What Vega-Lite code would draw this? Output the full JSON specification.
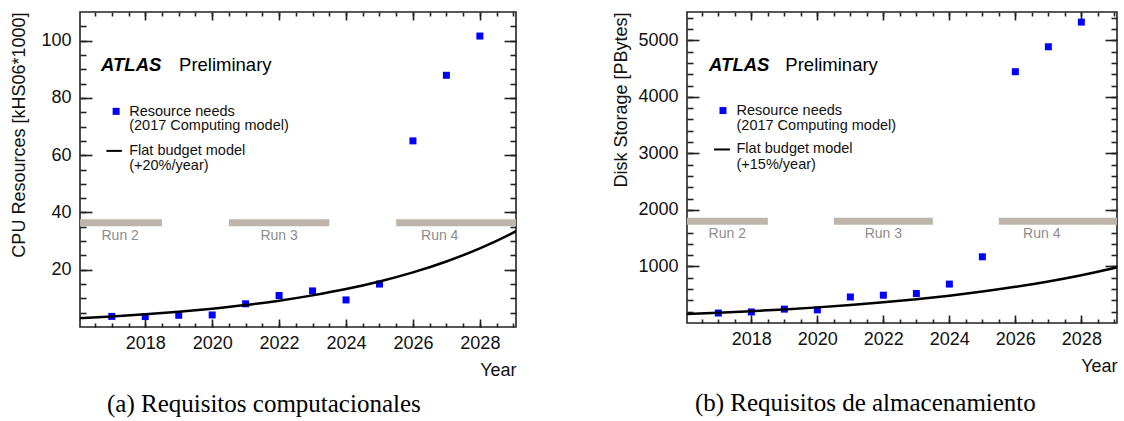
{
  "$schema": "https://vega.github.io/schema/vega-lite/v6.json",
  "padding": {"left": 10, "top": 10, "right": 5, "bottom": 5},
  "spacing": 94,
  "config": {
    "view": {"stroke": "#222222", "strokeWidth": 1.6},
    "axis": {"labelFont": "Liberation Sans", "labelFontSize": 18, "labelColor": "#111111", "tickColor": "#222222", "tickWidth": 1.6, "domain": false, "grid": false, "titleFont": "Liberation Sans", "titleFontSize": 18, "titleFontWeight": "normal", "titleColor": "#111111"},
    "title": {"font": "Liberation Serif", "fontSize": 25, "fontWeight": "normal", "color": "#000000", "orient": "bottom", "frame": "bounds", "anchor": "middle"}
  },
  "hconcat": [
    {
      "width": 436, "height": 315,
      "title": {"text": "(a) Requisitos computacionales", "offset": 13},
      "resolve": {"axis": {"x": "independent", "y": "independent"}},
      "layer": [
        {
          "data": {"values": [
            {"yr": 2017, "v": 3.7}, {"yr": 2018, "v": 3.65}, {"yr": 2019, "v": 4.1}, {"yr": 2020, "v": 4.2},
            {"yr": 2021, "v": 8.1}, {"yr": 2022, "v": 11.0}, {"yr": 2023, "v": 12.6}, {"yr": 2024, "v": 9.45},
            {"yr": 2025, "v": 15.0}, {"yr": 2026, "v": 65.0}, {"yr": 2027, "v": 87.9}, {"yr": 2028, "v": 101.6}
          ]},
          "mark": {"type": "square", "size": 49, "color": "#0000ff", "opacity": 1},
          "encoding": {
            "x": {"field": "yr", "type": "quantitative", "scale": {"domain": [2016.05, 2029.08], "nice": false, "zero": false},
              "axis": {"orient": "bottom", "values": [2018, 2020, 2022, 2024, 2026, 2028], "format": "d", "ticks": false, "labelPadding": 7, "title": "Year", "titleAnchor": "end", "titlePadding": 9}},
            "y": {"field": "v", "type": "quantitative", "scale": {"domain": [0, 110], "nice": false, "zero": false},
              "axis": {"orient": "left", "values": [20, 40, 60, 80, 100], "format": "d", "ticks": false, "labelPadding": 9, "title": "CPU Resources [kHS06*1000]", "titleAnchor": "end", "titlePadding": 12}}
          }
        },
        {
          "data": {"values": [
            {"yr": 2016, "v": 3.08}, {"yr": 2017, "v": 3.70}, {"yr": 2018, "v": 4.44}, {"yr": 2019, "v": 5.32},
            {"yr": 2020, "v": 6.39}, {"yr": 2021, "v": 7.66}, {"yr": 2022, "v": 9.20}, {"yr": 2023, "v": 11.04},
            {"yr": 2024, "v": 13.24}, {"yr": 2025, "v": 15.89}, {"yr": 2026, "v": 19.07}, {"yr": 2027, "v": 22.89},
            {"yr": 2028, "v": 27.46}, {"yr": 2029, "v": 32.96}, {"yr": 2029.1, "v": 33.56}
          ]},
          "mark": {"type": "line", "color": "#000000", "strokeWidth": 2.5, "clip": true, "interpolate": "monotone"},
          "encoding": {
            "x": {"field": "yr", "type": "quantitative", "scale": {"domain": [2016.05, 2029.08], "nice": false, "zero": false},
              "axis": {"orient": "bottom", "values": [2018, 2020, 2022, 2024, 2026, 2028], "labels": false, "tickSize": 8, "offset": -8, "title": null}},
            "y": {"field": "v", "type": "quantitative", "scale": {"domain": [0, 110], "nice": false, "zero": false},
              "axis": {"orient": "left", "values": [20, 40, 60, 80, 100], "labels": false, "tickSize": 12, "offset": -12, "title": null}}
          }
        },
        {
          "data": {"values": [
            {"run": "Run 2", "x1": 2015, "x2": 2018.5, "lv": 36.4},
            {"run": "Run 3", "x1": 2020.5, "x2": 2023.5, "lv": 36.4},
            {"run": "Run 4", "x1": 2025.5, "x2": 2030, "lv": 36.4}
          ]},
          "mark": {"type": "rule", "color": "#bdb5ab", "strokeWidth": 7, "strokeCap": "butt", "clip": true},
          "encoding": {
            "x": {"field": "x1", "type": "quantitative", "scale": {"domain": [2016.05, 2029.08], "nice": false, "zero": false},
              "axis": {"orient": "bottom", "values": [2016.5, 2017, 2017.5, 2018, 2018.5, 2019, 2019.5, 2020, 2020.5, 2021, 2021.5, 2022, 2022.5, 2023, 2023.5, 2024, 2024.5, 2025, 2025.5, 2026, 2026.5, 2027, 2027.5, 2028, 2028.5, 2029], "labels": false, "tickSize": 4, "offset": -4, "title": null}},
            "x2": {"field": "x2"},
            "y": {"field": "lv", "type": "quantitative", "scale": {"domain": [0, 110], "nice": false, "zero": false},
              "axis": {"orient": "left", "values": [5, 10, 15, 20, 25, 30, 35, 40, 45, 50, 55, 60, 65, 70, 75, 80, 85, 90, 95, 100, 105], "labels": false, "tickSize": 6, "offset": -6, "title": null}}
          }
        },
        {
          "data": {"values": [
            {"run": "Run 2", "lx": 2017.25, "lv": 36.4},
            {"run": "Run 3", "lx": 2022, "lv": 36.4},
            {"run": "Run 4", "lx": 2026.8, "lv": 36.4}
          ]},
          "mark": {"type": "text", "font": "Liberation Sans", "fontSize": 14, "color": "#8c8c8c", "dy": 13, "align": "center", "baseline": "middle"},
          "encoding": {
            "x": {"field": "lx", "type": "quantitative", "scale": {"domain": [2016.05, 2029.08], "nice": false, "zero": false},
              "axis": {"orient": "top", "values": [2018, 2020, 2022, 2024, 2026, 2028], "labels": false, "tickSize": 8, "offset": -8, "title": null}},
            "y": {"field": "lv", "type": "quantitative", "scale": {"domain": [0, 110], "nice": false, "zero": false},
              "axis": {"orient": "right", "values": [20, 40, 60, 80, 100], "labels": false, "tickSize": 12, "offset": -12, "title": null}},
            "text": {"field": "run"}
          }
        },
        {
          "data": {"values": [{"t": "ATLAS", "yr": 2016.68, "v": 91.5}]},
          "mark": {"type": "text", "font": "Liberation Sans", "fontSize": 18.5, "fontWeight": "bold", "fontStyle": "italic", "color": "#000000", "align": "left", "baseline": "middle"},
          "encoding": {
            "x": {"field": "yr", "type": "quantitative", "scale": {"domain": [2016.05, 2029.08], "nice": false, "zero": false},
              "axis": {"orient": "top", "values": [2016.5, 2017, 2017.5, 2018, 2018.5, 2019, 2019.5, 2020, 2020.5, 2021, 2021.5, 2022, 2022.5, 2023, 2023.5, 2024, 2024.5, 2025, 2025.5, 2026, 2026.5, 2027, 2027.5, 2028, 2028.5, 2029], "labels": false, "tickSize": 4, "offset": -4, "title": null}},
            "y": {"field": "v", "type": "quantitative", "scale": {"domain": [0, 110], "nice": false, "zero": false},
              "axis": {"orient": "right", "values": [5, 10, 15, 20, 25, 30, 35, 40, 45, 50, 55, 60, 65, 70, 75, 80, 85, 90, 95, 100, 105], "labels": false, "tickSize": 6, "offset": -6, "title": null}},
            "text": {"field": "t"}
          }
        },
        {
          "data": {"values": [{"t": "Preliminary", "yr": 2019.01, "v": 91.5}]},
          "mark": {"type": "text", "font": "Liberation Sans", "fontSize": 18.5, "color": "#000000", "align": "left", "baseline": "middle"},
          "encoding": {
            "x": {"field": "yr", "type": "quantitative", "scale": {"domain": [2016.05, 2029.08], "nice": false, "zero": false}, "axis": null},
            "y": {"field": "v", "type": "quantitative", "scale": {"domain": [0, 110], "nice": false, "zero": false}, "axis": null},
            "text": {"field": "t"}
          }
        },
        {
          "data": {"values": [{"yr": 2017.13, "v": 75.3}]},
          "mark": {"type": "square", "size": 49, "color": "#0000ff", "opacity": 1},
          "encoding": {
            "x": {"field": "yr", "type": "quantitative", "scale": {"domain": [2016.05, 2029.08], "nice": false, "zero": false}, "axis": null},
            "y": {"field": "v", "type": "quantitative", "scale": {"domain": [0, 110], "nice": false, "zero": false}, "axis": null}
          }
        },
        {
          "data": {"values": [{"yr": 2016.84, "yr2": 2017.30, "v": 61.5}]},
          "mark": {"type": "rule", "color": "#000000", "strokeWidth": 2},
          "encoding": {
            "x": {"field": "yr", "type": "quantitative", "scale": {"domain": [2016.05, 2029.08], "nice": false, "zero": false}, "axis": null},
            "x2": {"field": "yr2"},
            "y": {"field": "v", "type": "quantitative", "scale": {"domain": [0, 110], "nice": false, "zero": false}, "axis": null}
          }
        },
        {
          "data": {"values": [
            {"t": "Resource needs", "yr": 2017.52, "v": 75.0},
            {"t": "(2017 Computing model)", "yr": 2017.52, "v": 70.1},
            {"t": "Flat budget model", "yr": 2017.52, "v": 61.5},
            {"t": "(+20%/year)", "yr": 2017.52, "v": 56.3}
          ]},
          "mark": {"type": "text", "font": "Liberation Sans", "fontSize": 14.5, "color": "#111111", "align": "left", "baseline": "middle"},
          "encoding": {
            "x": {"field": "yr", "type": "quantitative", "scale": {"domain": [2016.05, 2029.08], "nice": false, "zero": false}, "axis": null},
            "y": {"field": "v", "type": "quantitative", "scale": {"domain": [0, 110], "nice": false, "zero": false}, "axis": null},
            "text": {"field": "t"}
          }
        }
      ]
    },
    {
      "width": 430, "height": 311,
      "title": {"text": "(b) Requisitos de almacenamiento", "offset": 16},
      "resolve": {"axis": {"x": "independent", "y": "independent"}},
      "layer": [
        {
          "data": {"values": [
            {"yr": 2017, "v": 176}, {"yr": 2018, "v": 195}, {"yr": 2019, "v": 245}, {"yr": 2020, "v": 232},
            {"yr": 2021, "v": 460}, {"yr": 2022, "v": 492}, {"yr": 2023, "v": 521}, {"yr": 2024, "v": 688},
            {"yr": 2025, "v": 1171}, {"yr": 2026, "v": 4444}, {"yr": 2027, "v": 4885}, {"yr": 2028, "v": 5321}
          ]},
          "mark": {"type": "square", "size": 49, "color": "#0000ff", "opacity": 1},
          "encoding": {
            "x": {"field": "yr", "type": "quantitative", "scale": {"domain": [2016.05, 2029.08], "nice": false, "zero": false},
              "axis": {"orient": "bottom", "values": [2018, 2020, 2022, 2024, 2026, 2028], "format": "d", "ticks": false, "labelPadding": 7, "title": "Year", "titleAnchor": "end", "titlePadding": 9}},
            "y": {"field": "v", "type": "quantitative", "scale": {"domain": [0, 5500], "nice": false, "zero": false},
              "axis": {"orient": "left", "values": [1000, 2000, 3000, 4000, 5000], "format": "d", "ticks": false, "labelPadding": 9, "title": "Disk Storage [PBytes]", "titleAnchor": "end", "titlePadding": 7}}
          }
        },
        {
          "data": {"values": [
            {"yr": 2016, "v": 158}, {"yr": 2017, "v": 181.7}, {"yr": 2018, "v": 208.9}, {"yr": 2019, "v": 240.3},
            {"yr": 2020, "v": 276.3}, {"yr": 2021, "v": 317.8}, {"yr": 2022, "v": 365.5}, {"yr": 2023, "v": 420.3},
            {"yr": 2024, "v": 483.3}, {"yr": 2025, "v": 555.8}, {"yr": 2026, "v": 639.2}, {"yr": 2027, "v": 735.1},
            {"yr": 2028, "v": 845.4}, {"yr": 2029, "v": 972.2}, {"yr": 2029.1, "v": 985.9}
          ]},
          "mark": {"type": "line", "color": "#000000", "strokeWidth": 2.5, "clip": true, "interpolate": "monotone"},
          "encoding": {
            "x": {"field": "yr", "type": "quantitative", "scale": {"domain": [2016.05, 2029.08], "nice": false, "zero": false},
              "axis": {"orient": "bottom", "values": [2018, 2020, 2022, 2024, 2026, 2028], "labels": false, "tickSize": 8, "offset": -8, "title": null}},
            "y": {"field": "v", "type": "quantitative", "scale": {"domain": [0, 5500], "nice": false, "zero": false},
              "axis": {"orient": "left", "values": [1000, 2000, 3000, 4000, 5000], "labels": false, "tickSize": 12, "offset": -12, "title": null}}
          }
        },
        {
          "data": {"values": [
            {"run": "Run 2", "x1": 2015, "x2": 2018.5, "lv": 1800},
            {"run": "Run 3", "x1": 2020.5, "x2": 2023.5, "lv": 1800},
            {"run": "Run 4", "x1": 2025.5, "x2": 2030, "lv": 1800}
          ]},
          "mark": {"type": "rule", "color": "#bdb5ab", "strokeWidth": 7, "strokeCap": "butt", "clip": true},
          "encoding": {
            "x": {"field": "x1", "type": "quantitative", "scale": {"domain": [2016.05, 2029.08], "nice": false, "zero": false},
              "axis": {"orient": "bottom", "values": [2016.5, 2017, 2017.5, 2018, 2018.5, 2019, 2019.5, 2020, 2020.5, 2021, 2021.5, 2022, 2022.5, 2023, 2023.5, 2024, 2024.5, 2025, 2025.5, 2026, 2026.5, 2027, 2027.5, 2028, 2028.5, 2029], "labels": false, "tickSize": 4, "offset": -4, "title": null}},
            "x2": {"field": "x2"},
            "y": {"field": "lv", "type": "quantitative", "scale": {"domain": [0, 5500], "nice": false, "zero": false},
              "axis": {"orient": "left", "values": [200, 400, 600, 800, 1000, 1200, 1400, 1600, 1800, 2000, 2200, 2400, 2600, 2800, 3000, 3200, 3400, 3600, 3800, 4000, 4200, 4400, 4600, 4800, 5000, 5200, 5400], "labels": false, "tickSize": 6, "offset": -6, "title": null}}
          }
        },
        {
          "data": {"values": [
            {"run": "Run 2", "lx": 2017.27, "lv": 1800},
            {"run": "Run 3", "lx": 2022, "lv": 1800},
            {"run": "Run 4", "lx": 2026.8, "lv": 1800}
          ]},
          "mark": {"type": "text", "font": "Liberation Sans", "fontSize": 14, "color": "#8c8c8c", "dy": 13, "align": "center", "baseline": "middle"},
          "encoding": {
            "x": {"field": "lx", "type": "quantitative", "scale": {"domain": [2016.05, 2029.08], "nice": false, "zero": false},
              "axis": {"orient": "top", "values": [2018, 2020, 2022, 2024, 2026, 2028], "labels": false, "tickSize": 8, "offset": -8, "title": null}},
            "y": {"field": "lv", "type": "quantitative", "scale": {"domain": [0, 5500], "nice": false, "zero": false},
              "axis": {"orient": "right", "values": [1000, 2000, 3000, 4000, 5000], "labels": false, "tickSize": 12, "offset": -12, "title": null}},
            "text": {"field": "run"}
          }
        },
        {
          "data": {"values": [{"t": "ATLAS", "yr": 2016.72, "v": 4557}]},
          "mark": {"type": "text", "font": "Liberation Sans", "fontSize": 18.5, "fontWeight": "bold", "fontStyle": "italic", "color": "#000000", "align": "left", "baseline": "middle"},
          "encoding": {
            "x": {"field": "yr", "type": "quantitative", "scale": {"domain": [2016.05, 2029.08], "nice": false, "zero": false},
              "axis": {"orient": "top", "values": [2016.5, 2017, 2017.5, 2018, 2018.5, 2019, 2019.5, 2020, 2020.5, 2021, 2021.5, 2022, 2022.5, 2023, 2023.5, 2024, 2024.5, 2025, 2025.5, 2026, 2026.5, 2027, 2027.5, 2028, 2028.5, 2029], "labels": false, "tickSize": 4, "offset": -4, "title": null}},
            "y": {"field": "v", "type": "quantitative", "scale": {"domain": [0, 5500], "nice": false, "zero": false},
              "axis": {"orient": "right", "values": [200, 400, 600, 800, 1000, 1200, 1400, 1600, 1800, 2000, 2200, 2400, 2600, 2800, 3000, 3200, 3400, 3600, 3800, 4000, 4200, 4400, 4600, 4800, 5000, 5200, 5400], "labels": false, "tickSize": 6, "offset": -6, "title": null}},
            "text": {"field": "t"}
          }
        },
        {
          "data": {"values": [{"t": "Preliminary", "yr": 2019.03, "v": 4557}]},
          "mark": {"type": "text", "font": "Liberation Sans", "fontSize": 18.5, "color": "#000000", "align": "left", "baseline": "middle"},
          "encoding": {
            "x": {"field": "yr", "type": "quantitative", "scale": {"domain": [2016.05, 2029.08], "nice": false, "zero": false}, "axis": null},
            "y": {"field": "v", "type": "quantitative", "scale": {"domain": [0, 5500], "nice": false, "zero": false}, "axis": null},
            "text": {"field": "t"}
          }
        },
        {
          "data": {"values": [{"yr": 2017.14, "v": 3757}]},
          "mark": {"type": "square", "size": 49, "color": "#0000ff", "opacity": 1},
          "encoding": {
            "x": {"field": "yr", "type": "quantitative", "scale": {"domain": [2016.05, 2029.08], "nice": false, "zero": false}, "axis": null},
            "y": {"field": "v", "type": "quantitative", "scale": {"domain": [0, 5500], "nice": false, "zero": false}, "axis": null}
          }
        },
        {
          "data": {"values": [{"yr": 2016.87, "yr2": 2017.35, "v": 3069}]},
          "mark": {"type": "rule", "color": "#000000", "strokeWidth": 2},
          "encoding": {
            "x": {"field": "yr", "type": "quantitative", "scale": {"domain": [2016.05, 2029.08], "nice": false, "zero": false}, "axis": null},
            "x2": {"field": "yr2"},
            "y": {"field": "v", "type": "quantitative", "scale": {"domain": [0, 5500], "nice": false, "zero": false}, "axis": null}
          }
        },
        {
          "data": {"values": [
            {"t": "Resource needs", "yr": 2017.55, "v": 3746},
            {"t": "(2017 Computing model)", "yr": 2017.55, "v": 3481},
            {"t": "Flat budget model", "yr": 2017.55, "v": 3069},
            {"t": "(+15%/year)", "yr": 2017.55, "v": 2787}
          ]},
          "mark": {"type": "text", "font": "Liberation Sans", "fontSize": 14.5, "color": "#111111", "align": "left", "baseline": "middle"},
          "encoding": {
            "x": {"field": "yr", "type": "quantitative", "scale": {"domain": [2016.05, 2029.08], "nice": false, "zero": false}, "axis": null},
            "y": {"field": "v", "type": "quantitative", "scale": {"domain": [0, 5500], "nice": false, "zero": false}, "axis": null},
            "text": {"field": "t"}
          }
        }
      ]
    }
  ]
}
